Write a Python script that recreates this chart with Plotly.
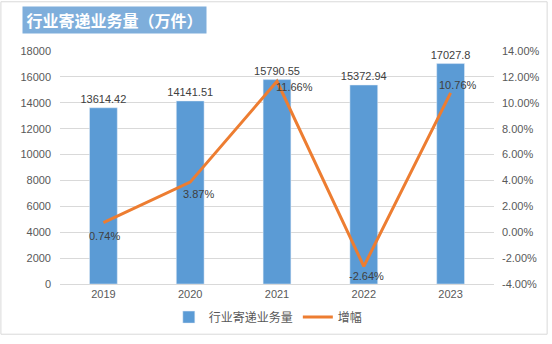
import plotly.graph_objects as go

# Annual express delivery volume (10k pieces) and year-on-year growth
years = ["2019", "2020", "2021", "2022", "2023"]
volume = [13614.42, 14141.51, 15790.55, 15372.94, 17027.8]
growth = [0.74, 3.87, 11.66, -2.64, 10.76]

left_ticks = list(range(0, 18001, 2000))
right_ticks = list(range(-4, 15, 2))

# label nudges (px) for the growth labels: (dx, dy up)
growth_label_shift = [(1, -13), (8, -12), (17, -6), (3, -10), (7, 8)]

BAR = "#5B9BD5"
LINE = "#ED7D31"
TICK = "#595959"
LABEL = "#404040"
GRID = "#D9D9D9"
FONT = "Liberation Sans, Noto Sans CJK SC, sans-serif"

fig = go.Figure()
fig.add_trace(go.Bar(
    x=years, y=volume, name="行业寄递业务量",
    marker_color=BAR, width=0.32,
    text=[str(v) for v in volume], textposition="outside",
    constraintext="none",
    textfont=dict(size=11, color=LABEL, family=FONT),
    cliponaxis=False,
))
fig.add_trace(go.Scatter(
    x=years, y=growth, name="增幅", yaxis="y2",
    mode="lines", line=dict(color=LINE, width=3),
))

# growth labels, placed by category index on the category axis
for i, (g, (dx, dy)) in enumerate(zip(growth, growth_label_shift)):
    fig.add_annotation(
        x=i, y=g, xref="x", yref="y2", text=f"{g:.2f}%",
        showarrow=False, xshift=dx, yshift=dy,
        font=dict(size=11, color=LABEL, family=FONT),
    )

# chart title on a tinted band
fig.add_annotation(
    x=(22 - 60) / 437, y=(290 - 5) / 239, xref="paper", yref="paper",
    xanchor="left", yanchor="top", text="<b>行业寄递业务量（万件）</b>",
    showarrow=False, width=181, height=24, bgcolor="#7EAEDB",
    font=dict(size=16, color="white", family="Noto Sans CJK SC"),
)

# outer chart frame
fig.add_shape(
    type="rect", xref="paper", yref="paper",
    x0=(0.5 - 60) / 437, x1=(550.5 - 60) / 437,
    y0=(290 - 341.5) / 239, y1=(290 - 0.5) / 239,
    line=dict(color="#D9D9D9", width=1), fillcolor="rgba(0,0,0,0)",
)

fig.update_layout(
    width=552, height=344,
    margin=dict(l=60, r=55, t=51, b=54),
    paper_bgcolor="white", plot_bgcolor="white",
    font=dict(family=FONT, color=TICK, size=11),
    showlegend=True,
    legend=dict(
        orientation="h", x=0.48, xanchor="center", y=-0.142, yanchor="middle",
        font=dict(size=12, color=TICK, family="Noto Sans CJK SC"),
        itemwidth=30, tracegroupgap=0,
    ),
    xaxis=dict(
        type="category", range=[-0.5, len(years) - 0.5],
        showgrid=False, showline=True, linecolor=GRID, linewidth=1,
        ticks="", tickfont=dict(size=11, color=TICK),
    ),
    yaxis=dict(
        range=[0, 18000], tickvals=left_ticks, ticktext=[str(t) for t in left_ticks],
        showgrid=True, gridcolor=GRID, gridwidth=1, zeroline=False,
        ticks="", ticklabelstandoff=8, tickfont=dict(size=11, color=TICK),
    ),
    yaxis2=dict(
        range=[-4, 14], overlaying="y", side="right",
        tickvals=right_ticks, ticktext=[f"{t:.2f}%" for t in right_ticks],
        showgrid=False, zeroline=False, ticks="", ticklabelstandoff=7,
        tickfont=dict(size=11, color=TICK),
    ),
)

fig.write_html("out.html")
